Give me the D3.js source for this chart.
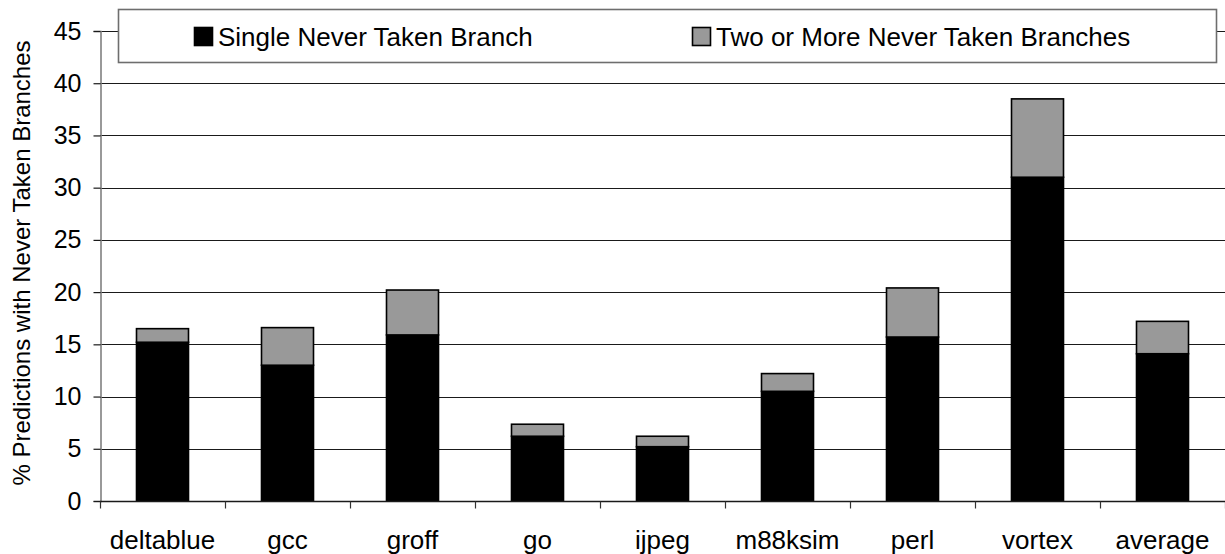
<!DOCTYPE html>
<html>
<head>
<meta charset="utf-8">
<script src="https://cdn.jsdelivr.net/npm/d3@7"></script>
<style>
  html, body { margin: 0; padding: 0; background: #fff; }
  svg { display: block; font-family: "Liberation Sans", Arial, sans-serif; }
</style>
</head>
<body>
<svg id="chart" width="1225" height="554"></svg>
<script>
// Benchmarks and the share of predictions containing never-taken branches
const categories = ["deltablue", "gcc", "groff", "go", "ijpeg", "m88ksim", "perl", "vortex", "average"];
const singleNeverTaken = [15.2, 13.0, 15.9, 6.2, 5.2, 10.5, 15.7, 31.0, 14.1];
const twoOrMoreNeverTaken = [1.3, 3.6, 4.3, 1.15, 1.0, 1.7, 4.7, 7.5, 3.1];
const seriesNames = ["Single Never Taken Branch", "Two or More Never Taken Branches"];
const seriesColors = ["#000000", "#999999"];
const yTicks = [0, 5, 10, 15, 20, 25, 30, 35, 40, 45];

const svg = d3.select("#chart");
const margin = { left: 100, right: 0, top: 31, bottom: 53 };
const W = 1225, H = 554;
const FONT = "Liberation Sans, Arial, sans-serif";

const x = d3.scaleBand()
  .domain(categories)
  .range([margin.left, W - margin.right])
  .paddingInner(0.584)
  .paddingOuter(0.292);

const y = d3.scaleLinear()
  .domain([0, 45])
  .range([H - margin.bottom, margin.top]);

// Horizontal gridlines
svg.append("g")
  .selectAll("line")
  .data(yTicks.filter(d => d > 0))
  .join("line")
  .attr("x1", margin.left)
  .attr("x2", W - margin.right)
  .attr("y1", d => Math.round(y(d)) + 0.5)
  .attr("y2", d => Math.round(y(d)) + 0.5)
  .attr("stroke", "#1a1a1a")
  .attr("stroke-width", 1.2);

// Stacked bars
const rows = categories.map((c, i) => ({ cat: c, single: singleNeverTaken[i], multi: twoOrMoreNeverTaken[i] }));
const stack = d3.stack().keys(["single", "multi"])(rows);

svg.append("g")
  .selectAll("g")
  .data(stack)
  .join("g")
  .attr("fill", (d, i) => seriesColors[i])
  .selectAll("rect")
  .data(d => d)
  .join("rect")
  .attr("x", d => x(d.data.cat))
  .attr("width", x.bandwidth())
  .attr("y", d => y(d[1]))
  .attr("height", d => y(d[0]) - y(d[1]))
  .attr("stroke", "#000")
  .attr("stroke-width", 1.6);

// Y axis
const yAxis = d3.axisLeft(y).tickValues(yTicks).tickSize(7).tickPadding(12).tickFormat(d3.format("d"));
const gy = svg.append("g")
  .attr("transform", `translate(${margin.left + 0.5},0)`)
  .call(yAxis);
gy.select(".domain").attr("stroke", "#808080").attr("stroke-width", 1.6);
gy.selectAll(".tick line").attr("stroke", "#1a1a1a").attr("stroke-width", 1.2);
gy.selectAll(".tick text")
  .attr("font-size", 25)
  .attr("font-family", FONT)
  .attr("fill", "#000");

// X axis with ticks at band boundaries
const gx = svg.append("g")
  .attr("transform", `translate(0,${Math.round(y(0)) + 0.5})`);
gx.append("line")
  .attr("x1", margin.left)
  .attr("x2", W - margin.right)
  .attr("stroke", "#1a1a1a")
  .attr("stroke-width", 1.4);
const boundaries = categories.map(c => x(c) - x.step() * x.paddingInner() / 2).concat([W - margin.right - 0.5]);
gx.selectAll("line.tk")
  .data(boundaries)
  .join("line")
  .attr("class", "tk")
  .attr("x1", d => Math.round(d) + 0.5)
  .attr("x2", d => Math.round(d) + 0.5)
  .attr("y1", 0)
  .attr("y2", 7)
  .attr("stroke", "#333")
  .attr("stroke-width", 1.2);
gx.selectAll("text")
  .data(categories)
  .join("text")
  .attr("x", d => x(d) + x.bandwidth() / 2)
  .attr("y", 47)
  .attr("text-anchor", "middle")
  .attr("font-family", FONT)
  .attr("font-size", 26)
  .attr("fill", "#000")
  .text(d => d);

// Y axis title
svg.append("text")
  .attr("transform", `translate(30,263) rotate(-90)`)
  .attr("text-anchor", "middle")
  .attr("font-family", FONT)
  .attr("font-size", 24)
  .attr("fill", "#000")
  .text("% Predictions with Never Taken Branches");

// Legend
const legend = svg.append("g");
legend.append("rect")
  .attr("x", 118.5)
  .attr("y", 9.5)
  .attr("width", 1098)
  .attr("height", 53)
  .attr("fill", "#fff")
  .attr("stroke", "#6e6e6e")
  .attr("stroke-width", 1.6);
const legendX = [194, 692];
const items = legend.selectAll("g.item")
  .data(seriesNames)
  .join("g")
  .attr("class", "item")
  .attr("transform", (d, i) => `translate(${legendX[i]},0)`);
items.append("rect")
  .attr("x", 0.5)
  .attr("y", 27.5)
  .attr("width", 18)
  .attr("height", 18)
  .attr("fill", (d, i) => seriesColors[i])
  .attr("stroke", "#000")
  .attr("stroke-width", 1.6);
items.append("text")
  .attr("x", 24)
  .attr("y", 46)
  .attr("font-family", FONT)
  .attr("font-size", 26)
  .attr("fill", "#000")
  .text(d => d);
</script>
</body>
</html>
